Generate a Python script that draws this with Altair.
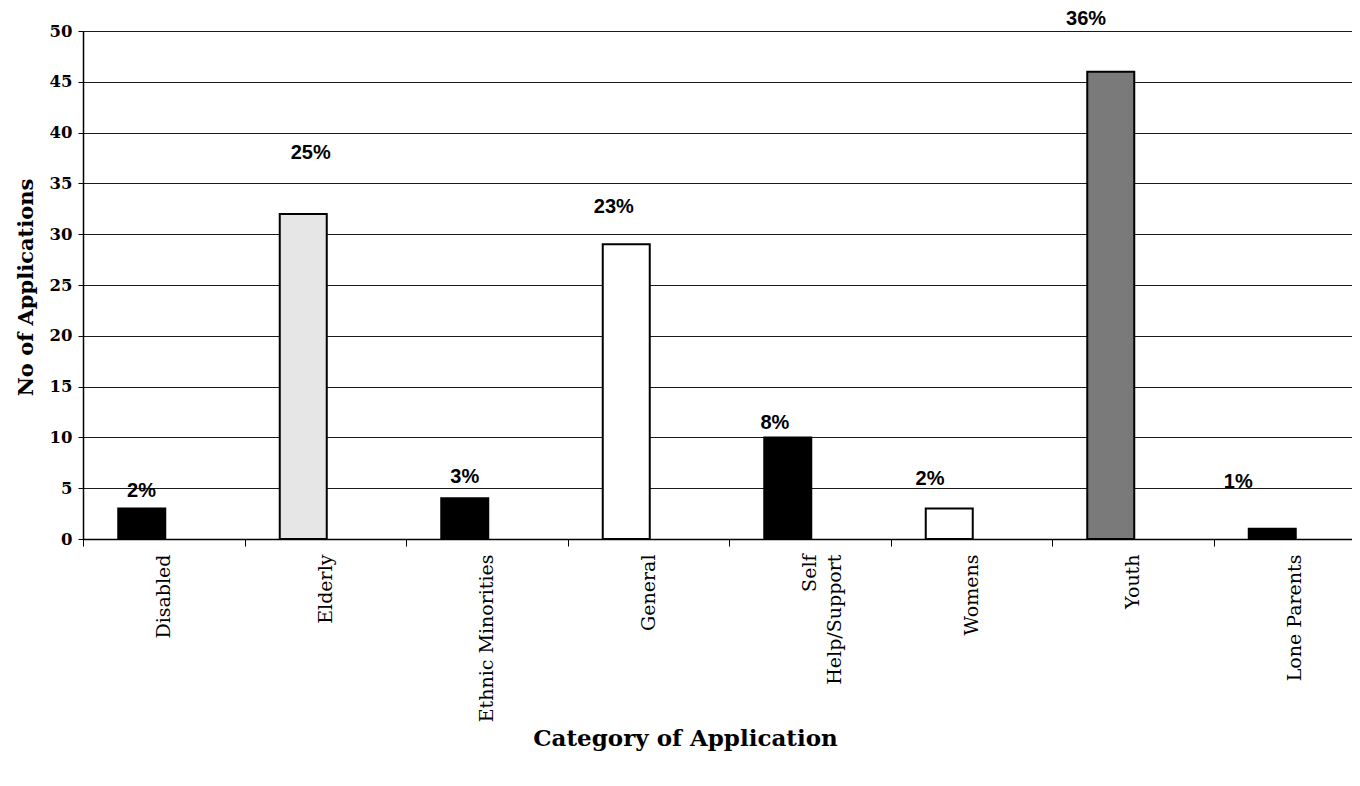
import altair as alt
import pandas as pd

categories = ["Disabled", "Elderly", "Ethnic Minorities", "General",
              "Self Help/Support", "Womens", "Youth", "Lone Parents"]
counts = [3, 32, 4, 29, 10, 3, 46, 1]
percent_labels = ["2%", "25%", "3%", "23%", "8%", "2%", "36%", "1%"]
# label placement (y in data units, x as a fraction across its category band)
label_at = [4.7, 38.0, 6.1, 32.7, 11.4, 5.9, 51.2, 5.6]
label_across = [0.362, 0.41, 0.364, 0.287, 0.284, 0.245, 0.211, 0.153]
fills = ["#000000", "#e6e6e6", "#000000", "#ffffff",
         "#000000", "#ffffff", "#7a7a7a", "#000000"]

df = pd.DataFrame({
    "category": categories,
    "count": counts,
    "pct": percent_labels,
    "label_y": label_at,
    "across": label_across,
})

SERIF = "DejaVu Serif"
SANS = "Liberation Sans"

x_scale = alt.Scale(domain=categories, range=[0, 1292], paddingInner=0, paddingOuter=0)
y_scale = alt.Scale(domain=[0, 50], nice=False)

x_axis = alt.Axis(
    title="Category of Application",
    titleFont=SERIF, titleFontSize=23, titleFontWeight="bold", titleColor="black",
    titleX=602, titleY=199, titleBaseline="middle", titleAlign="center",
    labelAngle=-90, labelFont=SERIF, labelFontSize=19, labelColor="black",
    labelPadding=8, labelAlign="right", labelBaseline="middle",
    labelExpr="datum.label == 'Self Help/Support' ? ['Self', 'Help/Support'] : datum.label",
    labelLimit=400, labelLineHeight=25,
    tickBand="extent", tickSize=7, tickColor="black", tickWidth=1,
    domainColor="black", domainWidth=1.5, grid=False,
)

y_axis = alt.Axis(
    title="No of Applications",
    titleFont=SERIF, titleFontSize=21, titleFontWeight="bold", titleColor="black",
    titleX=-57, titleY=256, titleAngle=-90, titleBaseline="middle", titleAlign="center",
    values=list(range(0, 51, 5)),
    labelFont=SERIF, labelFontSize=16.5, labelFontWeight="bold", labelColor="black",
    labelPadding=6, tickSize=5, tickColor="black",
    domainColor="black", domainWidth=1.5,
    grid=True, gridColor="#1a1a1a", gridWidth=1,
)

bars = alt.Chart(df).mark_bar(
    width=47, xOffset=-22, stroke="black", strokeWidth=2
).encode(
    x=alt.X("category:N", sort=categories, scale=x_scale, axis=x_axis),
    y=alt.Y("count:Q", scale=y_scale, axis=y_axis),
    fill=alt.Fill("category:N", scale=alt.Scale(domain=categories, range=fills), legend=None),
)

labels = alt.Chart(df).mark_text(
    font=SANS, fontSize=20, fontWeight="bold", color="black", baseline="middle", align="center"
).encode(
    x=alt.X("category:N", sort=categories, scale=x_scale, axis=x_axis),
    xOffset=alt.XOffset("across:Q", scale=alt.Scale(domain=[0, 1], range=[0, 161.5])),
    y=alt.Y("label_y:Q", scale=y_scale, axis=y_axis),
    text="pct:N",
)

chart = alt.layer(bars, labels).properties(
    width=1269, height=508,
    autosize=alt.AutoSizeParams(type="none"),
    padding={"left": 75, "top": 23, "right": 0, "bottom": 222},
    background="white",
).configure_view(stroke=None)

chart.save("out.html", embed_options={"renderer": "svg", "actions": False})
